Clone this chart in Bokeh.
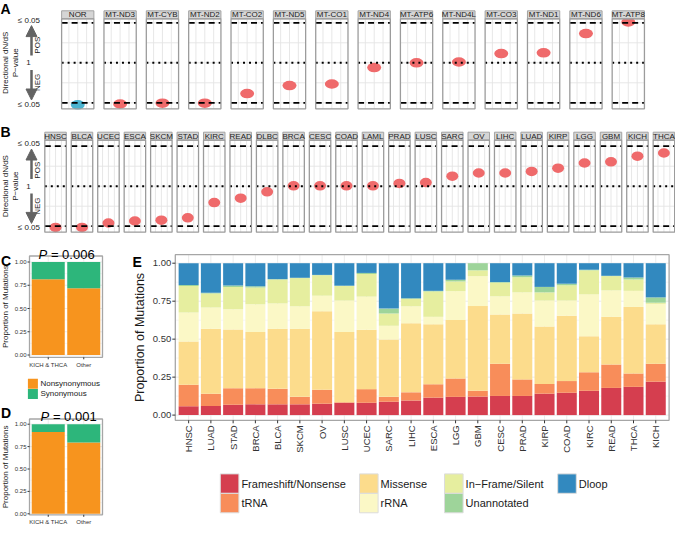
import math
from bokeh.plotting import figure
from bokeh.models import Range1d, ColumnDataSource, Arrow, NormalHead
from bokeh.layouts import column
from bokeh.embed import file_html
from bokeh.resources import INLINE
from bokeh.core.properties import value

FONT = "Liberation Sans"
TXT = "#1a1a1a"
ARROW_GREY = "#636363"
GRID = "#ebebeb"
BORDER = "#a6a6a6"

# ---------------- data ----------------
# Panel A: genes, directional dN/dS score (-1 = NEG p<=0.05, 0 = p 1, +1 = POS p<=0.05)
genes_a = ["NOR", "MT-ND3", "MT-CYB", "MT-ND2", "MT-CO2", "MT-ND5", "MT-CO1",
           "MT-ND4", "MT-ATP6", "MT-ND4L", "MT-CO3", "MT-ND1", "MT-ND6", "MT-ATP8"]
score_a = [-1.05, -1.03, -1.01, -1.01, -0.77, -0.57, -0.53,
           -0.12, 0.0, 0.02, 0.23, 0.25, 0.73, 1.02]
group_a = ["normal"] + ["tumor"] * 13

# Panel B: cancer types
cancers_b = ["HNSC", "BLCA", "UCEC", "ESCA", "SKCM", "STAD", "KIRC", "READ", "DLBC",
             "BRCA", "CESC", "COAD", "LAML", "PRAD", "LUSC", "SARC", "OV", "LIHC",
             "LUAD", "KIRP", "LGG", "GBM", "KICH", "THCA"]
score_b = [-1.03, -1.03, -0.92, -0.87, -0.85, -0.79, -0.41, -0.30, -0.14,
           0.01, 0.01, 0.01, 0.01, 0.07, 0.09, 0.25, 0.33, 0.33,
           0.37, 0.45, 0.58, 0.61, 0.75, 0.83]
group_b = ["tumor"] * 24
dot_colors = {"normal": "#4bb4d0", "tumor": "#ef6a6b"}

# Panels C and D
groups_cd = ["KICH & THCA", "Other"]
c_nonsyn = [0.815, 0.717]
c_syn = [0.185, 0.283]
d_nonsyn = [0.913, 0.797]
d_syn = [0.087, 0.203]
c_pvalue = "0.006"
d_pvalue = "0.001"
cd_labels = ["Nonsynonymous", "Synonymous"]
cd_colors = ["#f7941e", "#2db67b"]
prop_ticks = [0.0, 0.25, 0.5, 0.75, 1.0]

# Panel E
cats_e = ["HNSC", "LUAD", "STAD", "BRCA", "BLCA", "SKCM", "OV", "LUSC", "UCEC", "SARC",
          "LIHC", "ESCA", "LGG", "GBM", "CESC", "PRAD", "KIRP", "COAD", "KIRC", "READ",
          "THCA", "KICH"]
frameshift = [.058, .060, .068, .071, .071, .071, .075, .081, .081, .088, .096, .115,
              .120, .122, .126, .126, .141, .147, .160, .179, .186, .220]
trna = [.141, .081, .109, .106, .102, .049, .092, .004, .090, .032, .054, .088,
        .121, .038, .212, .109, .064, .077, .122, .154, .088, .118]
missense = [.286, .427, .387, .370, .395, .448, .517, .462, .391, .378, .455, .395,
            .385, .558, .324, .434, .378, .430, .237, .314, .438, .260]
rrna = [.190, .141, .133, .182, .167, .148, .102, .207, .218, .090, .111, .049,
        .190, .197, .120, .139, .171, .100, .276, .174, .106, .134]
inframe = [.175, .092, .147, .111, .158, .186, .135, .096, .149, .081, .049, .167,
           .064, .038, .090, .100, .054, .101, .158, .094, .075, .008]
unannot = [.007, .005, .009, .008, .002, .002, .002, .002, .007, .032, .004, .004,
           .011, .047, .004, .011, .036, .010, .004, .002, .013, .035]
dloop = [.143, .194, .147, .152, .105, .096, .077, .148, .064, .299, .231, .182,
         .109, .000, .124, .081, .156, .135, .043, .083, .094, .225]
e_labels = ["Frameshift/Nonsense", "tRNA", "Missense", "rRNA",
            "In\u2212Frame/Silent", "Unannotated", "Dloop"]
e_colors = ["#d53e4f", "#f88d5a", "#fcdc8c", "#fbf8c6", "#e6ee9f", "#9ed49a", "#3289bf"]


def txt(p, xs, ys, texts, size, align="center", baseline="middle", angle=0.0,
        style="normal", color=TXT, **kw):
    p.text(x=xs, y=ys, text=texts, angle=angle, text_align=align, text_baseline=baseline,
           text_font=value(FONT), text_font_size=size, text_font_style=style,
           text_color=color, **kw)


# ---------------- panels A and B (faceted dot rows) ----------------
def facet_row(letter, letter_ly, names, scores, groups, H, zero_px, ppu, c0, pitch, hw,
              dot_w, dot_h, ptop, pbot, head, pos_y, neg_y):
    W = 675
    ytop = zero_px / ppu
    ybot = ytop - H / ppu
    x0 = -c0 / pitch
    x1 = x0 + W / pitch
    p = figure(width=W, height=H, x_range=Range1d(x0, x1), y_range=Range1d(ybot, ytop),
               output_backend="svg", toolbar_location=None,
               x_axis_location=None, y_axis_location=None,
               min_border=0, outline_line_color=None)
    p.grid.visible = False

    def X(lx):
        return x0 + lx / pitch

    def Y(ly):
        return ytop - ly / ppu

    n = len(names)
    idx = list(range(n))
    vx = [i + off for i in idx for off in (-0.55 * hw, 0.0, 0.55 * hw)]
    p.segment(x0=vx, y0=[pbot] * len(vx), x1=vx, y1=[ptop] * len(vx),
              line_color="#e4e4e4", line_width=0.9)
    hy = [-1.0, -0.5, 0.0, 0.5, 1.0]
    hx0 = [i - hw for i in idx for _ in hy]
    hx1 = [i + hw for i in idx for _ in hy]
    hyy = [yy for _ in idx for yy in hy]
    p.segment(x0=hx0, y0=hyy, x1=hx1, y1=hyy, line_color="#e4e4e4", line_width=0.9)
    cols = [dot_colors[g] for g in groups]
    p.ellipse(x=idx, y=scores, width=dot_w, height=dot_h, width_units="screen",
              height_units="screen", fill_color=cols, line_color=None)
    lx0 = [i - hw for i in idx]
    lx1 = [i + hw for i in idx]
    for yy in (1.0, -1.0):
        p.segment(x0=lx0, y0=[yy] * n, x1=lx1, y1=[yy] * n, line_color="black",
                  line_width=1.8, line_dash="6 4")
    p.segment(x0=lx0, y0=[0.0] * n, x1=lx1, y1=[0.0] * n, line_color="black",
              line_width=2, line_dash="2 4")
    p.quad(left=lx0, right=lx1, bottom=[ptop] * n, top=[ptop + head] * n,
           fill_color="#d5d5d5", line_color="#a3a3a3", line_width=1)
    p.quad(left=lx0, right=lx1, bottom=[pbot] * n, top=[ptop] * n,
           fill_color=None, line_color="#9c9c9c", line_width=1.3)
    txt(p, idx, [ptop + head / 2] * n, names, "8px", color="#222222")
    txt(p, [X(39.5)] * 2, [1.07, -1.04], ["\u2264 0.05", "\u2264 0.05"], "8px", align="right")
    txt(p, [X(28)], [0.0], ["1"], "8px")
    for ys, ye in ((0.18, 0.93), (-0.18, -0.93)):
        p.add_layout(Arrow(end=NormalHead(size=11, fill_color=ARROW_GREY,
                                          line_color=ARROW_GREY),
                           x_start=X(31), y_start=ys, x_end=X(31), y_end=ye,
                           line_width=2.5, line_color=ARROW_GREY))
    txt(p, [X(36.5), X(36.5)], [pos_y, neg_y], ["POS", "NEG"], "8px", angle=math.pi / 2)
    txt(p, [X(5), X(15)], [0.0, 0.0], ["Directional dN/dS", "P\u2212value"], "8px",
        angle=math.pi / 2)
    txt(p, [X(0)], [Y(letter_ly)], [letter], "14px", align="left", baseline="top",
        style="bold", color="black")
    return p


pA = facet_row("A", 0, genes_a, score_a, group_a, H=112, zero_px=62.3, ppu=40,
               c0=77.25, pitch=42.35, hw=0.381, dot_w=14, dot_h=9.5,
               ptop=1.1, pbot=-1.15, head=0.2, pos_y=0.44, neg_y=-0.49)
pB = facet_row("B", 11, cancers_b, score_b, group_b, H=124, zero_px=73.7, ppu=40,
               c0=55.05, pitch=26.45, hw=0.406, dot_w=12, dot_h=9.5,
               ptop=1.15, pbot=-1.15, head=0.2, pos_y=0.40, neg_y=-0.50)

# ---------------- panels C, D and E (one drawing area, one scale pair per panel) ----------------
WB, HB = 675, 292
pBot = figure(width=WB, height=HB, x_range=Range1d(0, WB), y_range=Range1d(HB, 0),
              output_backend="svg", toolbar_location=None,
              x_axis_location=None, y_axis_location=None, min_border=0,
              outline_line_color=None)
pBot.grid.visible = False


def xr(d0, p0, d1, p1):
    s = (d1 - d0) / (p1 - p0)
    return Range1d(d0 - p0 * s, d0 + (WB - p0) * s)


def yr(d0, py0, d1, py1):
    q0, q1 = HB - py0, HB - py1
    s = (d1 - d0) / (q1 - q0)
    return Range1d(d0 - q0 * s, d0 + (HB - q0) * s)


# frame boxes of the three panels, in pixels of the drawing area: left, right, top, bottom
FR_C = (29.0, 102.0, 19.5, 120.8)
FR_D = (29.0, 102.0, 182.5, 278.3)
FR_E = (174.8, 668.6, 18.2, 183.8)

pBot.extra_x_ranges = {
    "cdx": xr(-0.5275, FR_C[0], 1.5275, FR_C[1]),
    "ex": xr(-0.6, FR_E[0], len(cats_e) - 1 + 0.6, FR_E[1]),
}
pBot.extra_y_ranges = {
    "cy": yr(0.0, 118.5, 1.0, 25.5),
    "dy": yr(0.0, 277.3, 1.0, 187.7),
    "ey": yr(0.0, 178.6, 1.0, 26.7),
}


def prop_panel(fr, xname, yname, ncat, keys, src, colors, bar_w, tick_size, lab_size,
               tick_len, lab_x, labels_x, rotate, xlab_gap):
    l, r, t, b = fr
    minor = [v + 0.125 for v in prop_ticks[:-1]]
    pBot.segment(x0=[l] * 4, x1=[r] * 4, y0=minor, y1=minor, y_range_name=yname,
                 line_color="#f4f4f4", line_width=0.8)
    pBot.segment(x0=[l] * 5, x1=[r] * 5, y0=prop_ticks, y1=prop_ticks, y_range_name=yname,
                 line_color=GRID, line_width=1)
    pos = list(range(ncat))
    pBot.segment(x0=pos, x1=pos, y0=[t] * ncat, y1=[b] * ncat, x_range_name=xname,
                 line_color=GRID, line_width=1)
    pBot.vbar_stack(keys, x="pos", width=bar_w, fill_color=colors, line_color=None,
                    source=src, x_range_name=xname, y_range_name=yname)
    pBot.quad(left=[l], right=[r], top=[t], bottom=[b], fill_color=None,
              line_color=BORDER, line_width=1.3)
    pBot.segment(x0=[l - tick_len] * 5, x1=[l] * 5, y0=prop_ticks, y1=prop_ticks,
                 y_range_name=yname, line_color="#333333", line_width=1)
    txt(pBot, [l - tick_len - 1] * 5, prop_ticks, ["%.2f" % v for v in prop_ticks],
        tick_size, align="right", y_range_name=yname, color="#333333")
    txt(pBot, [lab_x], [(t + b) / 2], ["Proportion of Mutations"], lab_size,
        angle=math.pi / 2)
    pBot.segment(x0=pos, x1=pos, y0=[b] * ncat, y1=[b + tick_len] * ncat,
                 x_range_name=xname, line_color="#333333", line_width=1)
    if rotate:
        txt(pBot, pos, [b + tick_len + xlab_gap] * ncat, labels_x, tick_size,
            align="right", baseline="middle", angle=math.pi / 2, x_range_name=xname,
            color="#333333")
    else:
        txt(pBot, pos, [b + tick_len + xlab_gap] * ncat, labels_x, tick_size,
            align="center", baseline="top", x_range_name=xname, color="#333333")


src_c = ColumnDataSource(dict(pos=list(range(len(groups_cd))), non=c_nonsyn, syn=c_syn))
src_d = ColumnDataSource(dict(pos=list(range(len(groups_cd))), non=d_nonsyn, syn=d_syn))
src_e = ColumnDataSource(dict(pos=list(range(len(cats_e))), fs=frameshift, trna=trna,
                              mis=missense, rrna=rrna, inf=inframe, una=unannot, dl=dloop))

prop_panel(FR_C, "cdx", "cy", 2, ["non", "syn"], src_c, cd_colors, 0.93, "6px", "8px",
           2, 5.0, groups_cd, False, 2.5)
prop_panel(FR_D, "cdx", "dy", 2, ["non", "syn"], src_d, cd_colors, 0.93, "6px", "8px",
           2, 5.0, groups_cd, False, 2.5)
prop_panel(FR_E, "ex", "ey", len(cats_e), ["fs", "trna", "mis", "rrna", "inf", "una", "dl"],
           src_e, e_colors, 0.9, "9.5px", "12.5px", 3, 139.5, cats_e, True, 2)


def legend(labels, colors, cols_x, rows_y, sw, sh, size, outline):
    nrows = len(rows_y)
    xs = [cols_x[i // nrows] for i in range(len(labels))]
    ys = [rows_y[i % nrows] for i in range(len(labels))]
    pBot.quad(left=xs, right=[x + sw for x in xs], top=ys, bottom=[y + sh for y in ys],
              fill_color=colors, line_color=outline, line_width=1)
    txt(pBot, [x + sw + 2.5 for x in xs], [y + sh / 2 for y in ys], labels, size,
        align="left")


legend(cd_labels, cd_colors, [27.4], [142.2, 152.4], 10, 10.1, "8px", None)
legend(e_labels, e_colors, [219.8, 359.0, 444.0, 557.2], [237.4, 256.9], 18.6, 19.4,
       "11px", "#dcdcdc")


def heading(letter, lx, base, pval=None, px=0.0, pbase=0.0):
    txt(pBot, [lx], [base], [letter], "14px", align="left", baseline="alphabetic",
        style="bold", color="black")
    if pval is not None:
        txt(pBot, [px], [pbase], ["P"], "13px", align="left", baseline="alphabetic",
            style="italic", color="black")
        txt(pBot, [px + 12.4], [pbase], ["= " + pval], "13px", align="left",
            baseline="alphabetic", color="black")


heading("C", 0.5, 24, c_pvalue, 38, 17.5)
heading("D", 0.5, 176, d_pvalue, 40, 179.5)
heading("E", 132, 25)

layout = column(pA, pB, pBot)
open("out.html", "w", encoding="utf-8").write(file_html(layout, INLINE))
